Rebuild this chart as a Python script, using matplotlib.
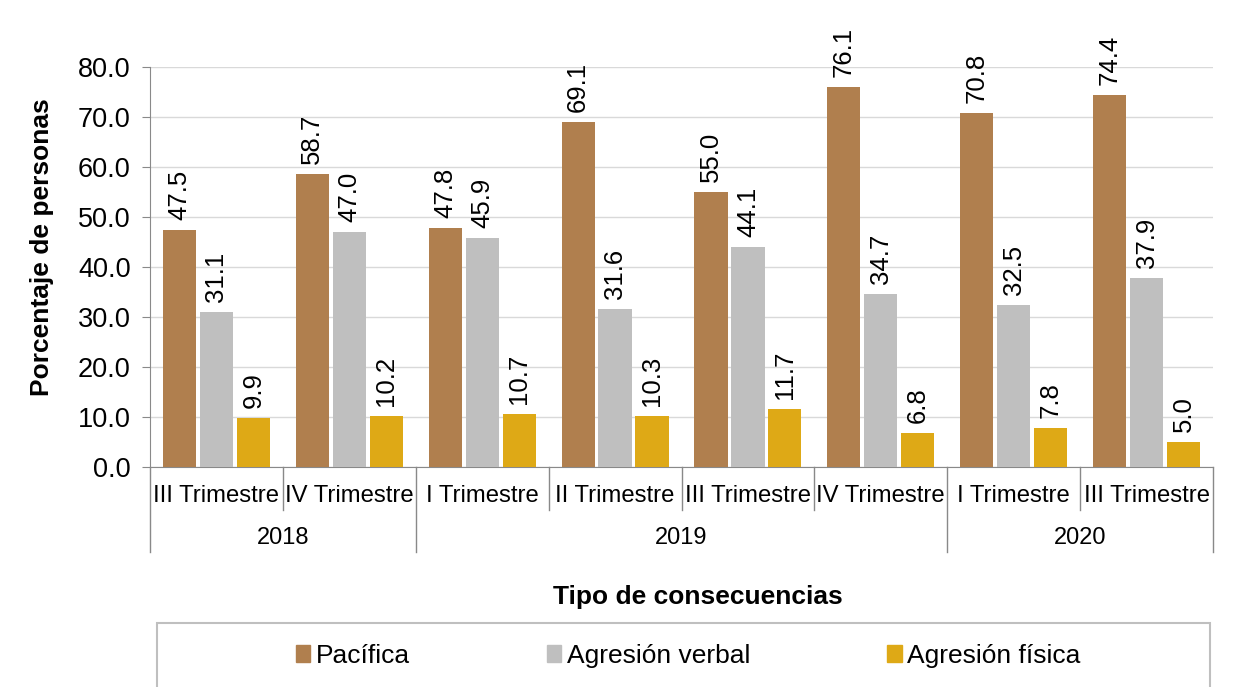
import numpy as np
import matplotlib
matplotlib.use("Agg")
import matplotlib.pyplot as plt
from matplotlib.patches import Rectangle, Patch

plt.rcParams['font.family'] = ['Liberation Sans', 'DejaVu Sans']

trimestres = ["III Trimestre", "IV Trimestre", "I Trimestre", "II Trimestre",
              "III Trimestre", "IV Trimestre", "I Trimestre", "III Trimestre"]
anios = ["2018", "2019", "2020"]
anio_n = [2, 4, 2]  # trimestres por año

series = ["Pacífica", "Agresión verbal", "Agresión física"]
pacifica = [47.5, 58.7, 47.8, 69.1, 55.0, 76.1, 70.8, 74.4]
verbal = [31.1, 47.0, 45.9, 31.6, 44.1, 34.7, 32.5, 37.9]
fisica = [9.9, 10.2, 10.7, 10.3, 11.7, 6.8, 7.8, 5.0]
colores = ["#B07F4E", "#BFBFBF", "#DEA916"]

fig = plt.figure(figsize=(12.33, 6.87), dpi=100)
ax = fig.add_axes([150/1233, 1-467/687, 1063/1233, 400/687])

x = np.arange(len(trimestres))
w = 0.25
offs = [-0.278, 0, 0.278]
for vals, off, c in zip([pacifica, verbal, fisica], offs, colores):
    bars = ax.bar(x + off, vals, w, color=c, zorder=3)
    for b, v in zip(bars, vals):
        ax.annotate(f"{v:.1f}", (b.get_x() + b.get_width()/2, v),
                    xytext=(0, 7), textcoords="offset points",
                    rotation=90, ha="center", va="bottom", fontsize=18.5)

ax.set_xlim(-0.5, len(trimestres) - 0.5)
ax.set_ylim(0, 80)
ax.set_yticks(np.arange(0, 81, 10))
ax.set_yticklabels([f"{v:.1f}" for v in np.arange(0, 81, 10)], fontsize=19.5)
ax.yaxis.grid(True, color="#D9D9D9", linewidth=1, zorder=0)
ax.tick_params(axis="y", length=6, color="#898989", pad=8)
ax.set_xticks([])
for s in ["top", "right"]:
    ax.spines[s].set_visible(False)
for s in ["left", "bottom"]:
    ax.spines[s].set_color("#898989")

# etiquetas de categorías en dos niveles
trans = ax.get_xaxis_transform()
for i, t in enumerate(trimestres):
    ax.text(i, -0.072, t, transform=trans, ha="center", va="center", fontsize=17.2)
bordes_anio = np.cumsum([0] + anio_n) - 0.5
for b in np.arange(-0.5, len(trimestres)):
    largo = -0.2125 if b in bordes_anio else -0.1075
    ax.plot([b, b], [0, largo], transform=trans, color="#898989",
            linewidth=1, clip_on=False)
for i, a in enumerate(anios):
    centro = (bordes_anio[i] + bordes_anio[i+1]) / 2
    ax.text(centro, -0.178, a, transform=trans, ha="center", va="center", fontsize=17)

fig.text(698/1233, 1-597/687, "Tipo de consecuencias", ha="center", va="center",
         fontsize=19, fontweight="bold")
fig.text(42/1233, 1-247/687, "Porcentaje de personas", ha="center", va="center",
         rotation=90, fontsize=19, fontweight="bold")

# leyenda
fig.patches.append(Rectangle((157/1233, -0.05), (1210-157)/1233, 0.05 + 1-623/687,
                             transform=fig.transFigure, fill=False,
                             edgecolor="#BFBFBF", linewidth=1.5))
handles = [Patch(color=c, label=s) for c, s in zip(colores, series)]
fig.legend(handles=handles, loc="center", bbox_to_anchor=(688/1233, 1-656/687),
           ncol=3, frameon=False, fontsize=19, handlelength=0.55,
           handleheight=0.6, handletextpad=0.2, columnspacing=5.2)

fig.savefig("out.png", dpi=100)
